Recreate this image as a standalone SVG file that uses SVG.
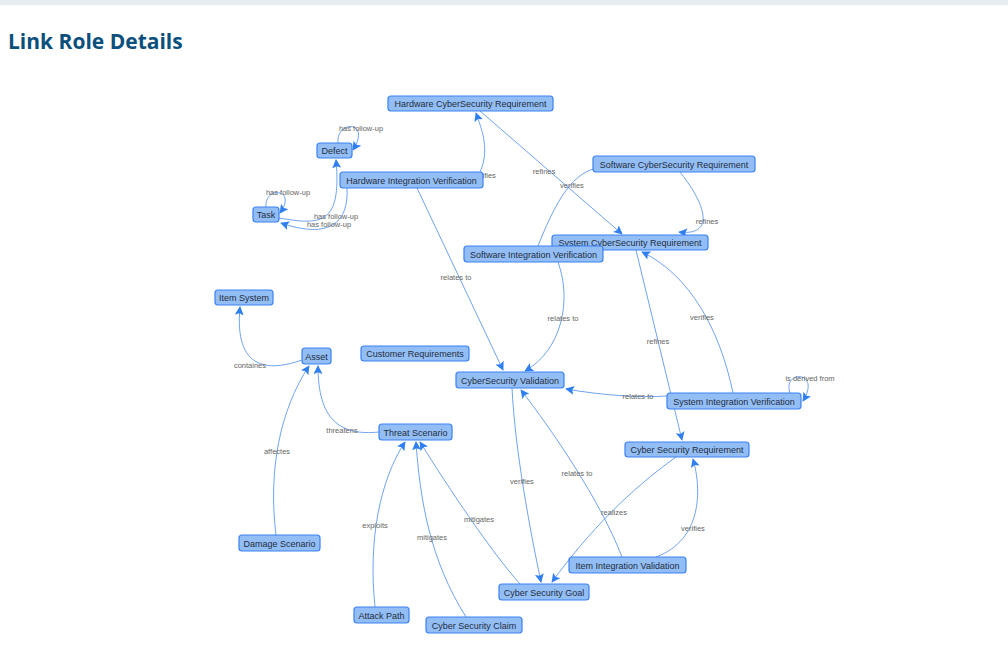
<svg xmlns="http://www.w3.org/2000/svg" width="1008" height="665" viewBox="0 0 1008 665">
<style>
.n rect{fill:#93bdf5;stroke:#3b82f6;stroke-width:1.2}
.n text{font-family:"Liberation Sans",Arial,sans-serif;font-size:9px;fill:#1f2d3d;text-anchor:middle}
#edges path{fill:none;stroke:#6fa3ef;stroke-width:1;marker-end:url(#ah)}
#edges text{font-family:"Liberation Sans",Arial,sans-serif;font-size:7.5px;fill:#666;text-anchor:middle}
</style>
<defs><marker id="ah" viewBox="0 0 10 10" refX="9" refY="5" markerWidth="9" markerHeight="9" markerUnits="userSpaceOnUse" orient="auto"><path d="M0,0 L10,5 L0,10 L2,5 z" fill="#2f7ff0"/></marker></defs>
<rect width="1008" height="665" fill="#fff"/>
<rect width="1008" height="5" fill="#e8edf2"/>
<text x="8" y="49" font-family="'Open Sans','Liberation Sans',sans-serif" font-weight="bold" font-size="21" fill="#0b4f7c">Link Role Details</text>
<g id="edges">
<path d="M338,143 C336,120 372,120 353,150"/><text x="361" y="131">has follow-up</text>
<path d="M266,207 C264,186 298,188 280,213"/><text x="288" y="195">has follow-up</text>
<path d="M279,218 C320,225 342,226 336,160"/><text x="336" y="219">has follow-up</text>
<path d="M347,188 C349,222 330,240 281,223"/><text x="329" y="227">has follow-up</text>
<path d="M480,172 C490,150 482,130 476,113"/><text x="484" y="178">verifies</text>
<path d="M480,111 L622,234"/><text x="544" y="174">refines</text>
<path d="M538,246 C560,190 578,168 605,167"/><text x="572" y="188">verifies</text>
<path d="M680,172 C710,210 712,236 679,232"/><text x="707" y="224">refines</text>
<path d="M417,188 L503,370"/><text x="456" y="280">relates to</text>
<path d="M558,262 C572,300 562,350 525,371"/><text x="563" y="321">relates to</text>
<path d="M733,393 C720,330 690,275 642,252"/><text x="702" y="320">verifies</text>
<path d="M636,250 L682,440"/><text x="658" y="344">refines</text>
<path d="M667,396 C640,398 600,395 566,389"/><text x="638" y="399">relates to</text>
<path d="M790,393 C782,370 822,370 803,401"/><text x="810" y="381">is derived from</text>
<path d="M512,388 C515,450 530,530 541,582"/><text x="522" y="484">verifies</text>
<path d="M622,557 C600,500 552,430 521,390"/><text x="577" y="476">relates to</text>
<path d="M676,457 C630,490 590,530 552,582"/><text x="614" y="515">realizes</text>
<path d="M656,557 C702,540 702,490 693,459"/><text x="693" y="531">verifies</text>
<path d="M520,584 C490,550 450,490 420,442"/><text x="479" y="522">mitigates</text>
<path d="M466,617 C430,560 420,500 416,442"/><text x="432" y="540">mitigates</text>
<path d="M375,607 C368,540 380,480 405,442"/><text x="375" y="528">exploits</text>
<path d="M379,432 C340,436 318,420 318,366"/><text x="342" y="433">threatens</text>
<path d="M302,360 C268,372 234,370 240,307"/><text x="250" y="368">containes</text>
<path d="M276,535 C268,470 280,410 309,366"/><text x="277" y="454">affectes</text>
</g>
<g id="n1" class="n"><rect x="388" y="96" width="165" height="15" rx="3"/><text x="470.5" y="107">Hardware CyberSecurity Requirement</text></g>
<g id="n2" class="n"><rect x="317" y="143" width="35" height="15" rx="3"/><text x="334.5" y="154">Defect</text></g>
<g id="n3" class="n"><rect x="340" y="172" width="143" height="16" rx="3"/><text x="411.5" y="183.5">Hardware Integration Verification</text></g>
<g id="n4" class="n"><rect x="593" y="156" width="162" height="16" rx="3"/><text x="674" y="167.5">Software CyberSecurity Requirement</text></g>
<g id="n5" class="n"><rect x="253" y="207" width="26" height="15" rx="3"/><text x="266" y="218">Task</text></g>
<g id="n6" class="n"><rect x="552" y="235" width="156" height="15" rx="3"/><text x="630" y="246">System CyberSecurity Requirement</text></g>
<g id="n7" class="n"><rect x="464" y="246" width="139" height="16" rx="3"/><text x="533.5" y="257.5">Software Integration Verification</text></g>
<g id="n8" class="n"><rect x="215" y="290" width="58" height="15" rx="3"/><text x="244" y="301">Item System</text></g>
<g id="n9" class="n"><rect x="302" y="348" width="29" height="16" rx="3"/><text x="316.5" y="359.5">Asset</text></g>
<g id="n10" class="n"><rect x="361" y="346" width="108" height="15" rx="3"/><text x="415" y="357">Customer Requirements</text></g>
<g id="n11" class="n"><rect x="456" y="372" width="108" height="16" rx="3"/><text x="510" y="383.5">CyberSecurity Validation</text></g>
<g id="n12" class="n"><rect x="667" y="393" width="134" height="16" rx="3"/><text x="734" y="404.5">System Integration Verification</text></g>
<g id="n13" class="n"><rect x="379" y="424" width="73" height="16" rx="3"/><text x="415.5" y="435.5">Threat Scenario</text></g>
<g id="n14" class="n"><rect x="625" y="442" width="124" height="15" rx="3"/><text x="687" y="453">Cyber Security Requirement</text></g>
<g id="n15" class="n"><rect x="239" y="535" width="81" height="16" rx="3"/><text x="279.5" y="546.5">Damage Scenario</text></g>
<g id="n16" class="n"><rect x="569" y="557" width="117" height="16" rx="3"/><text x="627.5" y="568.5">Item Integration Validation</text></g>
<g id="n17" class="n"><rect x="499" y="584" width="90" height="16" rx="3"/><text x="544" y="595.5">Cyber Security Goal</text></g>
<g id="n18" class="n"><rect x="354" y="607" width="55" height="16" rx="3"/><text x="381.5" y="618.5">Attack Path</text></g>
<g id="n19" class="n"><rect x="426" y="617" width="96" height="16" rx="3"/><text x="474" y="628.5">Cyber Security Claim</text></g>
</svg>
